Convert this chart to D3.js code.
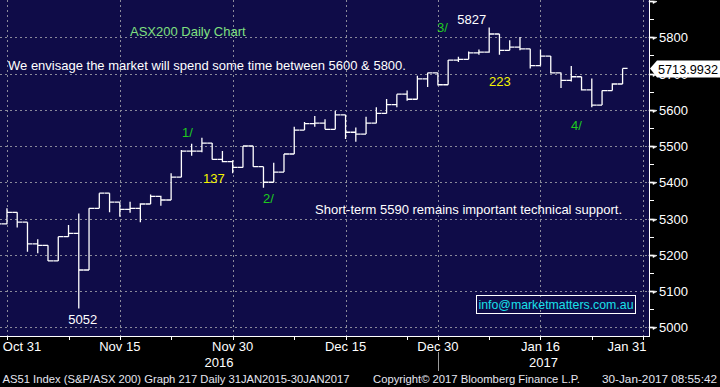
<!doctype html>
<html lang="en">
<head>
<meta charset="utf-8">
<title>ASX200 Daily Chart</title>
<style>
  body{margin:0;background:#000;}
  svg{display:block;font-family:"Liberation Sans",Arial,sans-serif;}
</style>
</head>
<body>
<div class="holder"></div>
<script src="https://cdn.jsdelivr.net/npm/d3@7/dist/d3.min.js"></script>
<script>

// trading days shown on the chart (Oct 28 2016 .. Jan 31 2017)
var days = ["16-10-28","16-10-31","16-11-01","16-11-02","16-11-03","16-11-04","16-11-07","16-11-08","16-11-09","16-11-10",
  "16-11-11","16-11-14","16-11-15","16-11-16","16-11-17","16-11-18","16-11-21","16-11-22","16-11-23","16-11-24",
  "16-11-25","16-11-28","16-11-29","16-11-30","16-12-01","16-12-02","16-12-05","16-12-06","16-12-07","16-12-08",
  "16-12-09","16-12-12","16-12-13","16-12-14","16-12-15","16-12-16","16-12-19","16-12-20","16-12-21","16-12-22",
  "16-12-23","16-12-28","16-12-29","16-12-30","17-01-03","17-01-04","17-01-05","17-01-06","17-01-09","17-01-10",
  "17-01-11","17-01-12","17-01-13","17-01-16","17-01-17","17-01-18","17-01-19","17-01-20","17-01-23","17-01-24",
  "17-01-25","17-01-27","17-01-30","17-01-31"];

// daily OHLC, one value per bar (Oct 28 .. Jan 27)
var opens  = [5292,5285,5317,5290,5230,5226,5183,5250,5259,5158,5328,5370,5345,5325,5328,5340,5361,5351,5414,5486,
  5486,5508,5463,5457,5441,5500,5443,5400,5428,5478,5544,5562,5563,5546,5586,5538,5533,5563,5590,5614,
  5643,5629,5685,5702,5669,5737,5739,5757,5759,5809,5764,5773,5768,5722,5748,5702,5681,5691,5655,5613,
  5653,5671];
var highs  = [5302,5328,5317,5290,5243,5226,5250,5282,5314,5328,5370,5370,5345,5346,5342,5366,5363,5425,5489,5506,
  5523,5508,5486,5461,5500,5500,5443,5454,5478,5553,5566,5583,5574,5597,5586,5551,5581,5607,5630,5643,
  5653,5694,5702,5702,5737,5746,5761,5766,5827,5809,5792,5801,5768,5766,5748,5703,5721,5691,5686,5653,
  5673,5714];
var lows   = [5268,5284,5275,5208,5204,5183,5183,5250,5052,5158,5328,5317,5305,5316,5290,5340,5335,5351,5414,5473,
  5483,5463,5455,5425,5441,5443,5385,5400,5428,5478,5544,5553,5546,5546,5519,5512,5533,5563,5590,5607,
  5625,5629,5663,5667,5669,5732,5739,5752,5757,5752,5764,5764,5714,5722,5700,5660,5678,5653,5607,5613,
  5653,5671];
var closes = [5285,5317,5290,5230,5226,5183,5250,5259,5158,5328,5370,5345,5325,5328,5340,5361,5351,5414,5486,5486,
  5508,5463,5457,5441,5500,5443,5400,5428,5478,5544,5562,5563,5546,5586,5538,5533,5563,5590,5614,5643,
  5629,5685,5702,5669,5737,5739,5757,5759,5809,5764,5773,5768,5722,5748,5702,5681,5691,5655,5613,5653,
  5671,5713.9932];

var labelDays  = ["16-10-31","16-11-15","16-11-30","16-12-15","16-12-30","17-01-16","17-01-31"];
var labelNames = ["Oct 31","Nov 15","Nov 30","Dec 15","Dec 30","Jan 16","Jan 31"];
var minorDays  = ["16-11-08","16-11-22","16-12-08","16-12-23","17-01-09","17-01-23"];
var yearEnd    = "16-12-30";
var yTicks     = [5000,5100,5200,5300,5400,5500,5600,5700,5800,5900];
var yMinor     = [5050,5150,5250,5350,5450,5550,5650,5750,5850];

var W = 720, H = 387, plotR = 649, plotB = 336;

var svg = d3.select(".holder").append("svg")
    .attr("width", W).attr("height", H);

var x = d3.scalePoint().domain(days).range([-3.3, 643.1]);
var y = d3.scaleLinear().domain([5000, 5800]).range([327.25, 37.25]);

// plot background
svg.append("rect").attr("x", 0).attr("y", 0)
    .attr("width", plotR).attr("height", plotB).attr("fill", "#0f0c48");

svg.append("clipPath").attr("id", "plot")
  .append("rect").attr("width", plotR).attr("height", plotB);

// grid
var grid = svg.append("g").attr("stroke", "#8a8a9a").attr("stroke-dasharray", "2,3");
grid.selectAll(".h").data(yTicks.slice(0, 9)).enter().append("line")
    .attr("x1", 0).attr("x2", plotR)
    .attr("y1", function(d){ return Math.round(y(d)) + 0.5; })
    .attr("y2", function(d){ return Math.round(y(d)) + 0.5; });
grid.selectAll(".v").data(labelDays).enter().append("line")
    .attr("y1", 0).attr("y2", plotB)
    .attr("x1", function(d){ return Math.round(x(d)) + 0.5; })
    .attr("x2", function(d){ return Math.round(x(d)) + 0.5; });

// OHLC bars
var bars = svg.append("g").attr("clip-path", "url(#plot)")
    .attr("stroke", "#fff").attr("stroke-width", 1.3).attr("fill", "none");
bars.selectAll("path").data(closes).enter().append("path")
    .attr("d", function(c, i){
      var bx = x(days[i]);
      return "M" + bx + "," + y(highs[i]) + "V" + y(lows[i]) +
             "M" + (bx - 5) + "," + y(opens[i]) + "H" + bx +
             "M" + bx + "," + y(c) + "H" + (bx + 5);
    });

// right axis
var ya = svg.append("g");
ya.append("line").attr("x1", plotR + 0.5).attr("x2", plotR + 0.5).attr("y1", 0).attr("y2", plotB)
    .attr("stroke", "#fff");
ya.selectAll(".mi").data(yMinor).enter().append("line")
    .attr("x1", plotR).attr("x2", plotR + 5)
    .attr("y1", function(d){ return Math.round(y(d)) + 0.5; })
    .attr("y2", function(d){ return Math.round(y(d)) + 0.5; })
    .attr("stroke", "#fff");
ya.selectAll(".ma").data(yTicks).enter().append("path")
    .attr("d", function(d){
      var ty = Math.round(y(d)) + 0.5;
      return "M" + plotR + "," + (ty - 0.6) + "H653L657," + ty + "L653," + (ty + 2) + "V" + (ty + 0.6) + "H" + plotR + "Z";
    })
    .attr("fill", "#fff").attr("stroke", "#fff").attr("stroke-width", 0.6);
// the 5700 label sits under the last-price flag, as in the source chart
ya.selectAll("text").data(yTicks.slice(0, 9)).enter().append("text")
    .attr("x", 659).attr("y", function(d){ return y(d) + 5; })
    .attr("fill", "#fff").attr("font-size", "13px")
    .text(function(d){ return d; });

// last price flag
var lp = closes[closes.length - 1], lpy = y(lp);
svg.append("path")
    .attr("d", "M650," + lpy + "L657," + (lpy - 8) + "H720V" + (lpy + 9) + "H657Z")
    .attr("fill", "#fff");
svg.append("text").attr("x", 658).attr("y", lpy + 5.5)
    .attr("fill", "#000").attr("font-size", "13px")
    .attr("textLength", 60).attr("lengthAdjust", "spacingAndGlyphs")
    .text(d3.format(".4f")(lp));

// bottom axis
var xa = svg.append("g");
xa.append("line").attr("x1", 0).attr("x2", plotR + 1).attr("y1", plotB + 0.5).attr("y2", plotB + 0.5)
    .attr("stroke", "#fff");
xa.selectAll(".t").data(labelDays.concat(minorDays)).enter().append("line")
    .attr("x1", function(d){ return Math.round(x(d)) + 0.5; })
    .attr("x2", function(d){ return Math.round(x(d)) + 0.5; })
    .attr("y1", plotB).attr("y2", plotB + 4)
    .attr("stroke", "#fff");
xa.append("line")
    .attr("x1", Math.round(x(yearEnd)) + 0.5).attr("x2", Math.round(x(yearEnd)) + 0.5)
    .attr("y1", 352).attr("y2", 371).attr("stroke", "#9a9a9a");
xa.selectAll("text").data(labelDays).enter().append("text")
    .attr("x", function(d){ return Math.min(Math.max(x(d), 22), 627); })
    .attr("y", 350.5).attr("text-anchor", "middle")
    .attr("fill", "#fff").attr("font-size", "13px")
    .text(function(d, i){ return labelNames[i]; });
xa.append("text").attr("x", x(yearEnd) / 2).attr("y", 366.5).attr("text-anchor", "middle")
    .attr("fill", "#fff").attr("font-size", "13px").text("2016");
xa.append("text").attr("x", (x(yearEnd) + plotR) / 2).attr("y", 366.5).attr("text-anchor", "middle")
    .attr("fill", "#fff").attr("font-size", "13px").text("2017");

// annotations
function note(tx, ty, s, col, anchor, len){
  var t = svg.append("text").attr("x", tx).attr("y", ty).attr("fill", col)
     .attr("font-size", "13px").attr("text-anchor", anchor || "start").text(s);
  if (len) t.attr("textLength", len).attr("lengthAdjust", "spacingAndGlyphs");
}
note(130, 35.5, "ASX200 Daily Chart", "#80e080");
note(8, 69.5, "We envisage the market will spend some time between 5600 & 5800.", "#fff");
note(315, 214, "Short-term 5590 remains important technical support.", "#fff");
note(182, 136.5, "1/", "#1ecb1e");
note(263, 202.5, "2/", "#1ecb1e");
note(437, 31.5, "3/", "#1ecb1e");
note(571, 129.5, "4/", "#1ecb1e");
note(203, 182.5, "137", "#f5f500");
note(489, 85.5, "223", "#f5f500");
var hiI = highs.indexOf(d3.max(highs)), loI = lows.indexOf(d3.min(lows));
note(x(days[hiI]) - 3, y(highs[hiI]) - 3.5, d3.max(highs), "#fff", "end");
note(x(days[loI]) + 4, y(lows[loI]) + 16, d3.min(lows), "#fff", "middle");

svg.append("rect").attr("x", 476.5).attr("y", 295.5).attr("width", 159).attr("height", 18)
    .attr("fill", "none").attr("stroke", "#fff");
note(478.5, 309, "info@marketmatters.com.au", "#19e0e8", "start", 155);

// footer
function foot(tx, s, len){
  svg.append("text").attr("x", tx).attr("y", 382.5).attr("fill", "#e6e6f0")
     .attr("font-size", "11.5px").attr("textLength", len).attr("lengthAdjust", "spacingAndGlyphs")
     .text(s);
}
foot(2.5, "AS51 Index (S&P/ASX 200) Graph 217  Daily 31JAN2015-30JAN2017", 347);
foot(373, "Copyright\u00a9 2017 Bloomberg Finance L.P.", 207);
foot(602, "30-Jan-2017 08:55:42", 115);

</script>
</body>
</html>
